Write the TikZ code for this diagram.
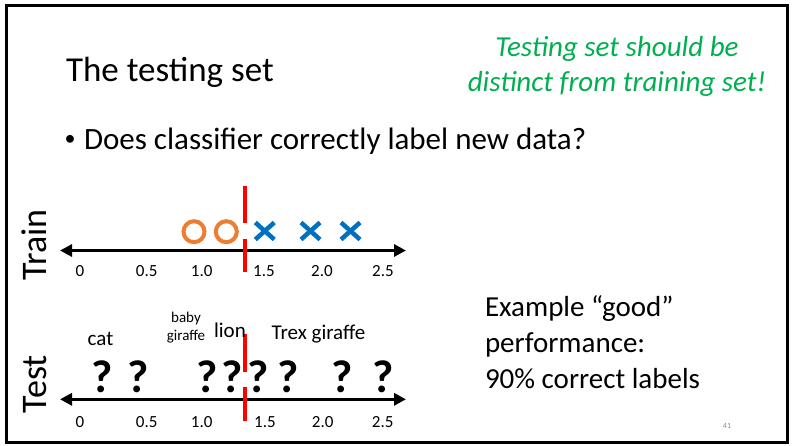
\documentclass[tikz,border=0pt]{standalone}
\usepackage{fontspec}
\setmainfont{Carlito}
\usetikzlibrary{arrows.meta}
\definecolor{okgreen}{HTML}{00B050}
\definecolor{oorange}{HTML}{ED7D31}
\definecolor{xblue}{HTML}{0070C0}
\definecolor{cutred}{HTML}{FF0000}
\definecolor{pagegray}{HTML}{8C8C8C}
\tikzset{
  txt/.style={inner sep=0pt, outer sep=0pt},
  axisback/.style={line width=3pt, {Triangle[length=12pt,width=12pt]}-{Triangle[length=12pt,width=12pt]}},
  tick/.style={txt, font=\fontsize{17}{20}\selectfont},
  cut/.style={draw=cutred, line width=4pt},
  omark/.style={draw=oorange, line width=4pt},
  xmark/.style={draw=xblue, line width=4.5pt},
  qmark/.style={txt, font=\bfseries\fontsize{46}{50}\selectfont},
  side/.style={txt, rotate=90, anchor=base, font=\fontsize{36}{40}\selectfont},
  lbl/.style={txt, font=\fontsize{21}{24}\selectfont},
}
\begin{document}
\begin{tikzpicture}[x=1pt, y=-1pt]
\useasboundingbox (0,0) rectangle (792,445);
\fill[white] (0,0) rectangle (792,445);
% slide frame
\draw[line width=3pt] (6.5,5.5) rectangle (787.5,442.5);

% heading and remarks (multi-line nodes are anchored at their last baseline)
\node[txt, anchor=base west, font=\fontsize{35}{40}\selectfont] (title) at (66,81) {The testing set};
\node[txt, anchor=base, align=center, text=okgreen, font=\itshape\fontsize{29}{35}\selectfont] (note) at (617,91) {Testing set should be\\distinct from training set!};
\node[txt, anchor=base, font=\fontsize{22}{24}\selectfont] (dot) at (70,145) {\textbullet};
\node[txt, anchor=base west, font=\fontsize{31}{36}\selectfont] (bullet) at (84,149) {Does classifier correctly label new data?};
\node[txt, anchor=base west, align=left, font=\fontsize{29}{36}\selectfont] (perf) at (485,388.5) {Example “good”\\performance:\\90\% correct labels};
\node[txt, text=pagegray, font=\fontsize{8}{9}\selectfont] (page) at (727,426) {41};

% ---------------- training axis ----------------
\coordinate (trL) at (60,250.5);
\coordinate (trR) at (406,250.5);
\draw[axisback] (trL) -- (trR);
\node[side] (train) at (46,245) {Train};
\foreach \v/\x in {0/80, 0.5/146.7, 1.0/201.7, 1.5/264, 2.0/322, 2.5/383}
  \node[tick] (trt\x) at (\x,271) {\v};
\coordinate (trcA) at (244.7,186);
\coordinate (trcB) at (244.7,223);
\coordinate (trcC) at (244.7,239);
\coordinate (trcD) at (244.7,272);
\draw[cut] (trcA) -- (trcB);
\draw[cut] (trcC) -- (trcD);
\draw[omark] (194,231.7) circle (10.5);
\draw[omark] (226.3,231.7) circle (10.5);
\foreach \x in {264.8,310.5,350.5}
  \draw[xmark] (\x-9.5,231-8.5) -- (\x+9.5,231+8.5) (\x-9.5,231+8.5) -- (\x+9.5,231-8.5);

% ---------------- test axis ----------------
\coordinate (teL) at (60,399.3);
\coordinate (teR) at (406,399.3);
\draw[axisback] (teL) -- (teR);
\node[side] (test) at (46,384) {Test};
\foreach \v/\x in {0/80, 0.5/146.7, 1.0/201.7, 1.5/265, 2.0/322.7, 2.5/382.7}
  \node[tick] (tet\x) at (\x,421.7) {\v};
\coordinate (tecA) at (244.7,334);
\coordinate (tecB) at (244.7,372);
\coordinate (tecC) at (244.7,387);
\coordinate (tecD) at (244.7,421);
\draw[cut] (tecA) -- (tecB);
\draw[cut] (tecC) -- (tecD);
\foreach \x in {101.7,138,206.7,232,258,288,341.7,383}
  \node[qmark, anchor=base] (q\x) at (\x,392.7) {?};

\node[lbl] (cat) at (100.5,339) {cat};
\node[txt, align=center, font=\fontsize{15}{18}\selectfont] (baby) at (186,328) {baby\\giraffe};
\node[lbl] (lion) at (230,330) {lion};
\node[lbl] (trex) at (318.5,334) {Trex giraffe};
\end{tikzpicture}
\end{document}
